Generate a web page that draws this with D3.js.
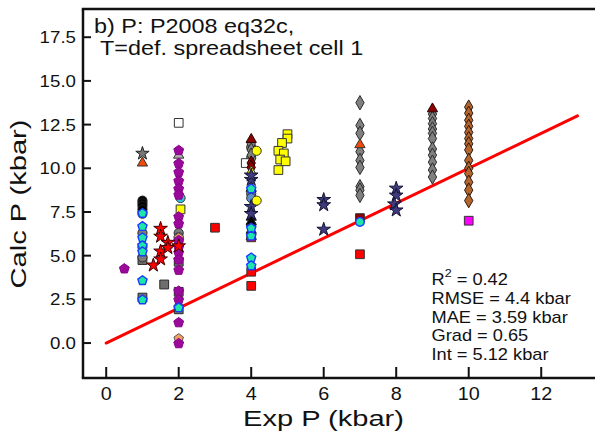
<!DOCTYPE html>
<html>
<head>
<meta charset="utf-8">
<script src="https://cdn.jsdelivr.net/npm/d3@7"></script>
<style>
  html, body { margin: 0; padding: 0; background: #fff; }
  svg { display: block; }
  text { font-family: "Liberation Sans", Arial, Helvetica, sans-serif; fill: #111; }
</style>
</head>
<body>
<svg id="chart" width="595" height="435"></svg>
<script>
// ---- data: [expP, calcP] pairs per marker group (kbar) ----
const grayDiamonds = [
  [4, 11.4], [4, 11.05], [4, 10.75],
  [7, 13.75], [7, 12.45], [7, 12.0], [7, 10.95], [7, 10.45], [7, 10.05], [7, 8.95], [7, 8.75], [7, 8.45],
  [9, 13.1], [9, 12.85], [9, 12.55], [9, 12.25], [9, 12.0], [9, 11.7], [9, 11.1], [9, 10.75], [9, 10.35], [9, 9.9], [9, 9.5]
];
const brownDiamonds = [
  [10, 13.5], [10, 13.15], [10, 12.75], [10, 12.4], [10, 12.05], [10, 11.7], [10, 11.4], [10, 11.05],
  [10, 10.45], [10, 10.0], [10, 9.7], [10, 9.2], [10, 8.75], [10, 8.15]
];
const darkRedDiamonds = [[4, 10.3], [4, 10.05]];
const darkRedTriangles = [[4, 11.65], [9, 13.4]];
const orangeTriangles = [[1, 10.3], [7, 11.35]];
const lightGrayTriangles = [[2, 10.75]];
const blackTriangles = [[4, 8.85], [4, 7.2], [4, 6.95], [4, 6.45], [4, 6.1]];
const yellowTriangles = [[4, 9.8]];
const grayStars = [[1, 10.85]];
const slateStars = [
  [4, 9.35], [4, 7.8], [4, 7.4], [4, 9.6],
  [6, 8.2], [6, 7.9], [6, 6.5],
  [8, 8.85], [8, 8.45], [7.95, 7.95], [8, 7.6]
];
const redStars = [
  [1.5, 6.55], [1.5, 6.1], [1.7, 5.75], [1.5, 5.25], [1.7, 5.45], [1.5, 4.8], [1.3, 4.45], [2, 5.55]
];
const blackCircles = [[1, 8.15], [1, 8.0], [1, 7.85], [1, 7.65], [4, 6.75]];
const grayCircles = [[1, 7.4], [1, 6.3], [1, 5.5], [1, 4.9], [2, 6.3], [2, 6.05], [4, 11.2], [4, 10.6], [4, 8.55]];
const yellowCircles = [[4.15, 11.0], [4.15, 8.15]];
const cyanCircles = [[2.05, 8.3]];
const steelCircles = [[4, 8.3]];
const greenCircles = [[7, 6.93]];
const whiteSquares = [[2, 12.6], [3.85, 10.3]];
const yellowSquares = [
  [2.05, 7.65],
  [5.0, 11.95], [5.0, 11.7], [4.85, 11.45], [4.75, 11.0], [4.9, 10.85], [4.8, 10.5], [4.95, 10.4], [4.75, 9.9]
];
const graySquares = [[1, 4.75], [1, 2.6], [1.6, 3.35], [2, 4.65], [2, 2.93], [2, 1.93]];
const redSquares = [[3, 6.6], [4, 4.08], [4, 3.27], [7, 5.08], [4, 6.05]];
const darkRedSquares = [[7, 7.15]];
const magentaSquares = [[10, 7.0]];
const peachPentagons = [[2, 6.05], [2, 5.8], [2, 0.28]];
const purplePentagons = [
  [0.5, 4.28],
  [2, 11.05], [2, 10.3], [2, 9.8], [2, 9.3], [2, 8.85], [2, 8.5], [2, 7.25], [2, 6.85], [2, 5.9],
  [2, 5.5], [2, 5.2], [2, 4.8], [2, 4.2], [2, 3.0], [2, 2.5], [2, 1.2], [2, 0.0]
];
const greenPentagons = [
  [1, 7.45], [1, 6.7], [1, 6.05], [1, 5.6], [1, 5.25], [1, 3.6], [1, 2.5],
  [2, 2.05],
  [4, 8.85], [4, 6.6], [4, 6.15], [4, 4.9], [4, 4.45]
];

// one-to-one reference line
const lineX = [0, 13];
const lineY = [0, 13];

// axis ticks
const xTicks = [0, 2, 4, 6, 8, 10, 12];
const yTicks = [0, 2.5, 5, 7.5, 10, 12.5, 15, 17.5];

// title and statistics text
const titleLines = ["b) P: P2008 eq32c,", "T=def. spreadsheet cell 1"];
const statLines = ["RMSE = 4.4 kbar", "MAE = 3.59 kbar", "Grad = 0.65", "Int = 5.12 kbar"];
const r2Value = "0.42";

// ---- drawing ----
const svg = d3.select("#chart");
const W = 595, H = 435;
const plotLeft = 83, plotTop = 9, plotBottom = 378;

const x = d3.scaleLinear().domain([-0.64, 13.5]).range([plotLeft, 595.6]);
const y = d3.scaleLinear().domain([-2, 19.1]).range([plotBottom, plotTop + 0.25]);

// pentagon symbol (area-based like d3's own symbols)
const symbolPentagon = {
  draw(ctx, size) {
    const R = Math.sqrt(size / 2.3776);
    for (let i = 0; i < 5; i++) {
      const a = -Math.PI / 2 + i * 2 * Math.PI / 5;
      const px = R * Math.cos(a), py = R * Math.sin(a) + R * 0.1;
      if (i === 0) ctx.moveTo(px, py); else ctx.lineTo(px, py);
    }
    ctx.closePath();
  }
};

// text helper: wide sans, stretched along the writing direction
function wideText(g, tx, ty, str, size, sx, anchor, rot) {
  return g.append("text")
    .attr("transform", `translate(${tx},${ty}) rotate(${rot || 0}) scale(${sx},1)`)
    .attr("text-anchor", anchor || "start")
    .attr("font-size", size)
    .text(str);
}

const plot = svg.append("g");
plot.append("defs").append("clipPath").attr("id", "clip")
  .append("rect").attr("x", plotLeft).attr("y", plotTop)
  .attr("width", W - plotLeft).attr("height", plotBottom - plotTop);

// red line drawn beneath markers
const lineData = lineX.map((v, i) => [v, lineY[i]]);
plot.append("path")
  .datum(lineData)
  .attr("d", d3.line().x(d => x(d[0])).y(d => y(d[1])))
  .attr("fill", "none")
  .attr("stroke", "#ff0000")
  .attr("stroke-width", 3)
  .attr("stroke-linecap", "round");

const layers = [
  { data: graySquares, type: d3.symbolSquare, size: 78, fill: "#6e6e6e", stroke: "#2a2a2a", sw: 1 },
  { data: grayCircles, type: d3.symbolCircle, size: 66, fill: "#7a7a7a", stroke: "#2a2a2a", sw: 1 },
  { data: blackCircles, type: d3.symbolCircle, size: 66, fill: "#000000", stroke: "#222", sw: 1 },
  { data: whiteSquares, type: d3.symbolSquare, size: 76, fill: "#ffffff", stroke: "#333", sw: 1 },
  { data: cyanCircles, type: d3.symbolCircle, size: 66, fill: "#2ec8e0", stroke: "#333", sw: 1 },
  { data: steelCircles, type: d3.symbolCircle, size: 66, fill: "#5b8fd6", stroke: "#333", sw: 1 },
  { data: lightGrayTriangles, type: d3.symbolTriangle, size: 46, fill: "#b0b0b0", stroke: "#333", sw: 1 },
  { data: grayDiamonds, type: d3.symbolDiamond, size: 60, fill: "#808080", stroke: "#2a2a2a", sw: 1 },
  { data: brownDiamonds, type: d3.symbolDiamond, size: 60, fill: "#b5652e", stroke: "#2a1a10", sw: 1 },
  { data: darkRedDiamonds, type: d3.symbolDiamond, size: 60, fill: "#8b0000", stroke: "#2a0000", sw: 1 },
  { data: darkRedTriangles, type: d3.symbolTriangle, size: 46, fill: "#8b0000", stroke: "#2a0000", sw: 1 },
  { data: yellowTriangles, type: d3.symbolTriangle, size: 46, fill: "#ffff00", stroke: "#333", sw: 1 },
  { data: orangeTriangles, type: d3.symbolTriangle, size: 46, fill: "#f04a0a", stroke: "#333", sw: 1 },
  { data: blackTriangles, type: d3.symbolTriangle, size: 46, fill: "#000000", stroke: "#222", sw: 1 },
  { data: grayStars, type: d3.symbolStar, size: 55, fill: "#777777", stroke: "#222", sw: 1 },
  { data: slateStars, type: d3.symbolStar, size: 58, fill: "#3e3a80", stroke: "#15132f", sw: 1 },
  { data: redSquares, type: d3.symbolSquare, size: 76, fill: "#ff0000", stroke: "#333", sw: 1 },
  { data: darkRedSquares, type: d3.symbolSquare, size: 76, fill: "#8b0000", stroke: "#333", sw: 1 },
  { data: magentaSquares, type: d3.symbolSquare, size: 76, fill: "#ff00ff", stroke: "#333", sw: 1 },
  { data: yellowSquares, type: d3.symbolSquare, size: 76, fill: "#ffff00", stroke: "#333", sw: 1 },
  { data: yellowCircles, type: d3.symbolCircle, size: 66, fill: "#ffff00", stroke: "#333", sw: 1 },
  { data: peachPentagons, type: symbolPentagon, size: 60, fill: "#f4a060", stroke: "#555", sw: 1 },
  { data: purplePentagons, type: symbolPentagon, size: 64, fill: "#9a0a9a", stroke: "#8a008a", sw: 1 },
  { data: greenPentagons, type: symbolPentagon, size: 56, fill: "#1ee6a6", stroke: "#1a3cff", sw: 1.4 },
  { data: greenCircles, type: d3.symbolCircle, size: 58, fill: "#1ee6a6", stroke: "#1a3cff", sw: 1.4 },
  { data: redStars, type: d3.symbolStar, size: 58, fill: "#ff0000", stroke: "#3a0000", sw: 1 }
];

const marks = plot.append("g").attr("clip-path", "url(#clip)");
layers.forEach(L => {
  marks.append("g").selectAll("path")
    .data(L.data)
    .join("path")
    .attr("transform", d => `translate(${x(d[0])},${y(d[1])})`)
    .attr("d", d3.symbol().type(L.type).size(L.size))
    .attr("fill", L.fill)
    .attr("stroke", L.stroke)
    .attr("stroke-width", L.sw)
    .attr("stroke-linejoin", "round");
});

// frame: left, bottom and top lines
const axisColor = "#111";
svg.append("line").attr("x1", plotLeft).attr("x2", plotLeft).attr("y1", plotTop).attr("y2", plotBottom)
  .attr("stroke", axisColor).attr("stroke-width", 2.5);
svg.append("line").attr("x1", plotLeft - 1.2).attr("x2", W).attr("y1", plotBottom).attr("y2", plotBottom)
  .attr("stroke", axisColor).attr("stroke-width", 2.5);
svg.append("line").attr("x1", plotLeft - 1.2).attr("x2", W).attr("y1", plotTop).attr("y2", plotTop)
  .attr("stroke", axisColor).attr("stroke-width", 2.5);

// y axis ticks (pointing inwards)
const yAxis = svg.append("g");
yTicks.forEach(v => {
  yAxis.append("line").attr("x1", plotLeft).attr("x2", plotLeft + 8).attr("y1", y(v)).attr("y2", y(v))
    .attr("stroke", axisColor).attr("stroke-width", 2);
  wideText(yAxis, 76, y(v) + 6, d3.format(".1f")(v), 17, 1.1, "end");
});

// x axis ticks (pointing inwards)
const xAxis = svg.append("g");
xTicks.forEach(v => {
  xAxis.append("line").attr("x1", x(v)).attr("x2", x(v)).attr("y1", plotBottom).attr("y2", plotBottom - 11)
    .attr("stroke", axisColor).attr("stroke-width", 2);
  wideText(xAxis, x(v), 400, String(v), 18, 1.1, "middle");
});

// axis titles
wideText(svg, 323.5, 426, "Exp P (kbar)", 22, 1.32, "middle");
wideText(svg, 26, 204, "Calc P (kbar)", 22, 1.32, "middle", -90);

// panel title
wideText(svg, 94, 32.5, titleLines[0], 20, 1.17, "start");
wideText(svg, 100, 55, titleLines[1], 20, 1.17, "start");

// statistics block
const stats = svg.append("g");
const rText = stats.append("text")
  .attr("transform", "translate(431.5,285) scale(1.14,1)")
  .attr("font-size", 16);
rText.append("tspan").text("R");
rText.append("tspan").attr("font-size", 11).attr("dy", -8).text("2");
rText.append("tspan").attr("dy", 8).text(" = " + r2Value);
statLines.forEach((s, i) => {
  wideText(stats, 431.5, 304 + i * 18.7, s, 16, 1.14, "start");
});
</script>
</body>
</html>
